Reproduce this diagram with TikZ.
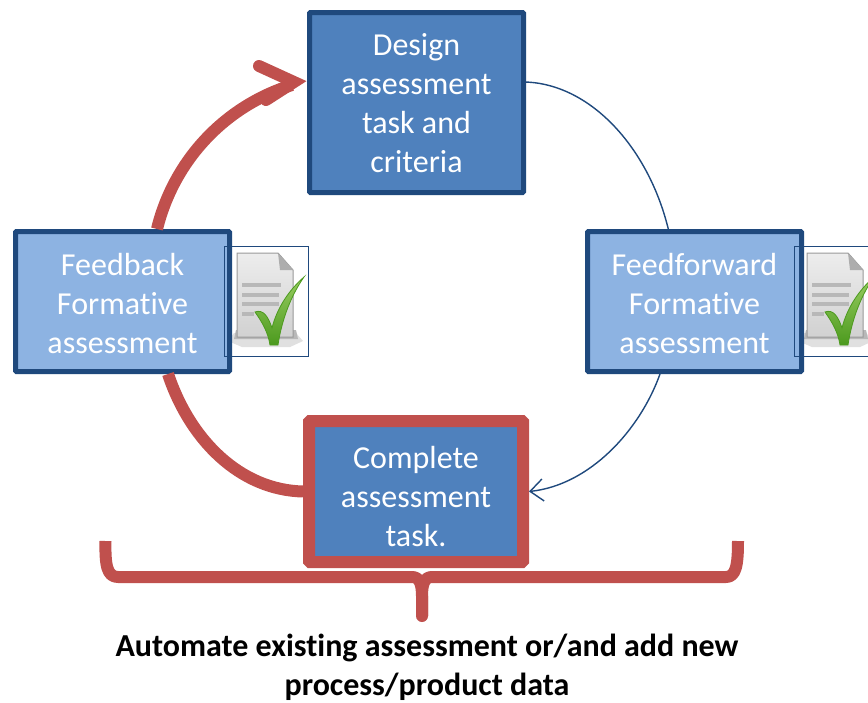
\documentclass[tikz,border=0pt]{standalone}
\usepackage{fontspec}
\setmainfont[Ligatures=CommonOff]{Carlito}
\usetikzlibrary{arrows.meta}
\definecolor{boxblue}{HTML}{4F81BD}
\definecolor{lightblue}{HTML}{8DB3E2}
\definecolor{navy}{HTML}{1F497D}
\definecolor{brick}{HTML}{C0504D}
\definecolor{tickfill}{HTML}{7FC03A}
\definecolor{tickdark}{HTML}{4C9A1E}
\tikzset{
  x=1pt,y=-1pt,
  boxtext/.style={text=white,align=center,font=\fontsize{32}{39}\selectfont,inner sep=0pt,minimum width=214pt,line width=5pt,draw=navy,rounded corners=1pt},
  darkbox/.style={boxtext,fill=boxblue},
  lightbox/.style={boxtext,fill=lightblue},
  redline/.style={draw=brick,line width=12pt,line join=round},
  blueline/.style={draw=navy,line width=1.4pt},
  frame/.style={draw=navy,line width=1.2pt,minimum width=84pt,minimum height=110pt,inner sep=0pt},
  caption/.style={align=center,font=\fontsize{32}{39}\selectfont\bfseries,text=black,inner sep=0pt}
}
\newcommand{\lowered}[2]{\raisebox{-#1}[\height][\depth]{\parbox[c]{205pt}{\centering #2}}}
\newcommand{\docicon}[2]{%
\begin{scope}[shift={(#1,#2)}]
  \fill[black!12] (10,87) -- (72,87) -- (79,95) -- (66,101) -- (18,101) -- (4,95) -- cycle;
  \fill[black!28] (12,84) -- (72,84) -- (74,93) -- (10,93) -- cycle;
  \shade[top color=black!7,bottom color=black!18,draw=black!40,line width=1pt] (13,7) -- (54,7) -- (69,24) -- (69,91) -- (13,91) -- cycle;
  \fill[black!32] (54,7) -- (69,24) -- (56,24) -- cycle;
  \foreach \yy/\xx in {37/57,47/55,56/55,66/30}
    \fill[black!28] (18,\yy) rectangle (\xx,\yy+4);
  \shade[top color=tickfill!80!white,bottom color=tickdark,draw=tickdark,line width=.8pt] (31,66) .. controls (39,63) and (44,70) .. (48,82)
     .. controls (53,62) and (65,44) .. (80,31)
     .. controls (68,48) and (58,72) .. (54,99) -- (46,99)
     .. controls (44,86) and (38,76) .. (31,66) -- cycle;
\end{scope}}
\begin{document}
\begin{tikzpicture}
\useasboundingbox (0,0) rectangle (868,702);
\fill[white] (0,0) rectangle (868,702);

\docicon{224}{246}
\docicon{794}{246}

% boxes
\node[lightbox,minimum height=140pt] (feedback) at (122.5,301.5) {\lowered{2pt}{Feedback\\Formative\\assessment}};
\node[lightbox,minimum height=140pt] (feedforward) at (694.5,301.5) {\lowered{2pt}{Feedforward\\Formative\\assessment}};
\node[darkbox,minimum height=180pt] (design) at (416.5,102.5) {\lowered{1pt}{Design\\assessment\\task and\\criteria}};
\node[darkbox,draw=brick,line width=12pt,minimum width=214pt,minimum height=141pt] (complete) at (416,491.5) {\lowered{5pt}{Complete\\assessment\\task.}};

% image frames
\node[frame,anchor=north west] (img1) at (224,246) {};
\node[frame,anchor=north west] (img2) at (794,246) {};

\coordinate (redstart) at (157,229);
\coordinate (redend) at (292,85);
\coordinate (tipup) at (259,66);
\coordinate (tip) at (294,82);
\coordinate (tiplow) at (266,100);
\coordinate (redout) at (168,374);
\coordinate (designright) at (525,82);
\coordinate (blueA) at (669,232);
\coordinate (blueB) at (660,374);
\coordinate (brl) at (105.5,541);
\coordinate (brr) at (738,541);
\coordinate (brs) at (422,596);
\coordinate (brm) at (422,616);

% connectors
\draw[redline] (redstart) .. controls (174,160) and (225,106) .. (redend);
\draw[redline,line cap=round,line join=miter] (tipup) -- (tip) -- (tiplow);
\draw[redline] (redout) .. controls (190,440) and (240,490) .. (complete.west);
\draw[blueline] (designright) .. controls (592,84) and (650,150) .. (blueA);
\draw[blueline,-{Straight Barb[length=13pt,width=22pt]}] (blueB) .. controls (640,430) and (590,485) .. (complete.east);

% brace
\draw[redline] (brl) .. controls (105,565) and (107,577) .. (118,577) -- (412,577) .. controls (419,577) and (422,583) .. (brs) -- (brm);
\draw[redline] (brr) .. controls (738,565) and (736,577) .. (726,577) -- (432,577) .. controls (425,577) and (422,583) .. (brs) -- (brm);
\fill[brick] (brm) circle (6pt);

% caption
\node[caption] (cap) at (427,667.5) {Automate existing assessment or/and add new\\process/product data};
\end{tikzpicture}
\end{document}
